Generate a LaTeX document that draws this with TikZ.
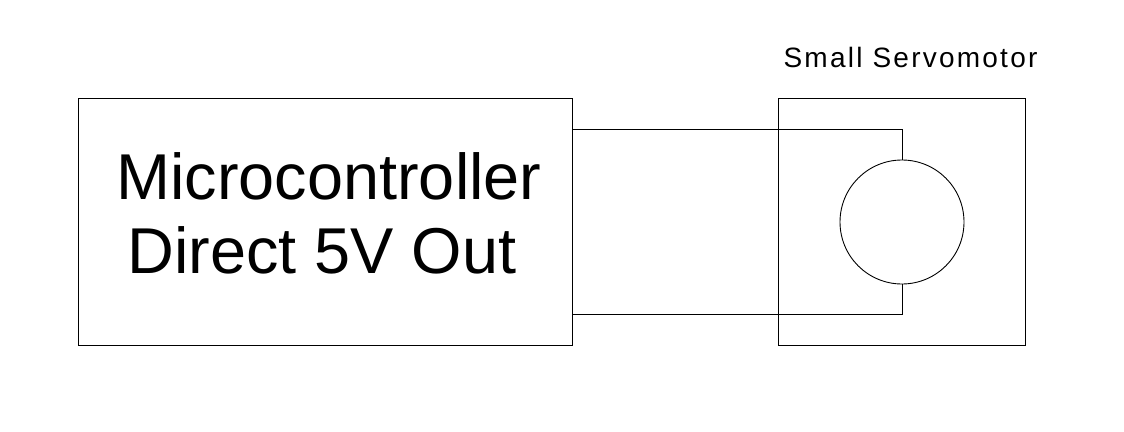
\documentclass[tikz,border=0pt]{standalone}
\usepackage{fontspec}
\setmainfont{Liberation Sans}
\newfontfamily\smallfam[LetterSpace=8]{Liberation Sans}
\begin{document}
\begin{tikzpicture}[x=1pt,y=-1pt,
  box/.style={draw=black,line width=0.9pt,minimum width=0pt,inner sep=0pt},
  wire/.style={draw=black,line width=0.9pt},
  big/.style={font=\fontsize{64.8}{66}\selectfont,inner sep=0pt,anchor=center},
  small/.style={font=\smallfam\fontsize{28}{30}\selectfont,inner sep=0pt,anchor=center}]
\useasboundingbox (0,0) rectangle (1124,431);
\node[box,minimum width=494pt,minimum height=247pt] (mcu) at (325.5,222) {};
\node[box,minimum width=247pt,minimum height=247pt] (servo) at (902,222) {};
\node[draw=black,line width=0.9pt,circle,minimum size=124pt,inner sep=0pt] (motor) at (902,222) {};
\node[big] (t1) at (329,176) {Microcontroller};
\node[big] (t2) at (322,250) {Direct 5V Out};
\node[small] (t3) at (910.5,57) {Small Servomotor};
\coordinate (a) at (mcu.east |- 0,129.5);
\coordinate (b) at (mcu.east |- 0,314);
\draw[wire] (a) -| (motor.north);
\draw[wire] (b) -| (motor.south);
\end{tikzpicture}
\end{document}
